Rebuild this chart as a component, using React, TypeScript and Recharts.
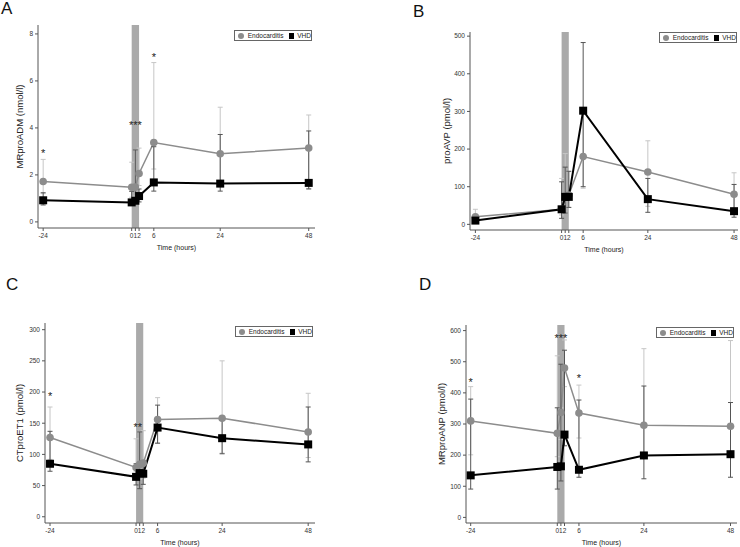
import React from 'react'
import {
  LineChart,
  Line,
  XAxis,
  YAxis,
  ErrorBar,
  ReferenceArea,
  ReferenceDot,
} from 'recharts'

const hours = [-24, 0, 1, 2, 6, 24, 48]

// A: MRproADM
const aEndo = [1.72, 1.47, 1.48, 2.06, 3.38, 2.9, 3.14]
const aEndoLo = [1.2, 1.05, 1.1, 1.55, 2.25, 1.6, 1.42]
const aEndoHi = [2.66, 2.54, 3.05, 3.14, 6.78, 4.88, 4.55]
const aVhd = [0.92, 0.83, 0.9, 1.1, 1.68, 1.63, 1.66]
const aVhdLo = [0.72, 0.72, 0.8, 0.85, 1.31, 1.31, 1.4]
const aVhdHi = [1.24, 1.3, 3.06, 1.4, 3.2, 3.72, 3.87]
const aTicks = [0, 2, 4, 6, 8]
const aStars = [
  { t: -24, y: 2.94, s: '*' },
  { t: 1, y: 4.13, s: '***' },
  { t: 6, y: 7.02, s: '*' },
]

// B: proAVP
const bEndo = [20, 40, 75, 78, 180, 139, 80]
const bEndoLo = [5, 25, 30, 45, 96, 48, 30]
const bEndoHi = [40, 122, 188, 140, 305, 222, 137]
const bVhd = [10, 40, 73, 73, 302, 67, 35]
const bVhdLo = [4, 16, 30, 45, 100, 32, 19]
const bVhdHi = [18, 113, 152, 141, 483, 122, 106]
const bTicks = [0, 100, 200, 300, 400, 500]

// C: CTproET1
const cEndo = [127, 79, 84, 86, 156, 158, 136]
const cEndoLo = [92, 73, 60, 62, 118, 102, 95]
const cEndoHi = [176, 125, 136, 138, 191, 250, 198]
const cVhd = [85, 64, 70, 69, 143, 126, 116]
const cVhdLo = [73, 51, 45, 52, 118, 101, 88]
const cVhdHi = [137, 85, 136, 90, 179, 155, 176]
const cTicks = [0, 50, 100, 150, 200, 250, 300]
const cStars = [
  { t: -24, y: 194, s: '*' },
  { t: 0.5, y: 144, s: '**' },
]

// D: MRproANP
const dEndo = [310, 270, 337, 480, 335, 296, 293]
const dEndoLo = [201, 195, 250, 420, 255, 200, 200]
const dEndoHi = [420, 519, 352, 570, 425, 542, 568]
const dVhd = [135, 162, 164, 266, 153, 199, 203]
const dVhdLo = [91, 91, 117, 230, 129, 124, 129]
const dVhdHi = [380, 352, 492, 537, 377, 422, 369]
const dTicks = [0, 100, 200, 300, 400, 500, 600]
const dStars = [
  { t: -24, y: 435, s: '*' },
  { t: 1, y: 577, s: '***' },
  { t: 6, y: 448, s: '*' },
]

const buildRows = (
  endo: number[], endoLo: number[], endoHi: number[],
  vhd: number[], vhdLo: number[], vhdHi: number[]
) =>
  hours.map((t, i) => ({
    t,
    endo: endo[i],
    endoErr: [endo[i] - endoLo[i], endoHi[i] - endo[i]],
    vhd: vhd[i],
    vhdErr: [vhd[i] - vhdLo[i], vhdHi[i] - vhd[i]],
  }))

const FONT = '"Liberation Sans", Arial, sans-serif'
const GREY = '#8c8c8c'

const SquareDot = (props: any) => {
  const { cx, cy } = props
  if (cx == null || cy == null) return null
  return <rect x={cx - 4} y={cy - 4} width={8} height={8} fill="#000" />
}

const tickStyle = { fontSize: 6.5, fill: '#333', fontFamily: FONT }

type PanelProps = {
  letter: string
  letterPos: { x: number; y: number }
  box: { x: number; y: number; w: number; h: number }
  plot: { l: number; t: number; r: number; b: number }
  xDomain: [number, number]
  yDomain: [number, number]
  yTicks: number[]
  yLabel: string
  yLabelOffset: number
  rows: any[]
  stars: { t: number; y: number; s: string }[]
  legendPos: { x: number; y: number }
}

const Panel = (p: PanelProps) => {
  const xAxisH = 28
  const margin = {
    top: p.plot.t - p.box.y,
    right: p.box.x + p.box.w - p.plot.r,
    left: 0,
    bottom: p.box.y + p.box.h - p.plot.b - xAxisH,
  }
  return (
    <>
      <div
        style={{
          position: 'absolute',
          left: p.letterPos.x,
          top: p.letterPos.y,
          fontSize: 17,
          lineHeight: '17px',
          fontFamily: FONT,
          color: '#111',
        }}
      >
        {p.letter}
      </div>
      <div style={{ position: 'absolute', left: p.box.x, top: p.box.y }}>
        <LineChart width={p.box.w} height={p.box.h} data={p.rows} margin={margin}>
          <XAxis
            dataKey="t"
            type="number"
            domain={p.xDomain}
            ticks={hours}
            interval={0}
            allowDataOverflow
            height={xAxisH}
            tickSize={3}
            tickMargin={2}
            stroke="#555"
            tick={tickStyle}
            label={{
              value: 'Time (hours)',
              position: 'insideBottom',
              offset: 6,
              style: { fontSize: 7, fill: '#222', fontFamily: FONT },
            }}
          />
          <YAxis
            type="number"
            domain={p.yDomain}
            ticks={p.yTicks}
            interval={0}
            allowDataOverflow
            width={p.plot.l - p.box.x}
            tickSize={3}
            tickMargin={2}
            stroke="#555"
            tick={tickStyle}
            label={{
              value: p.yLabel,
              angle: -90,
              position: 'insideLeft',
              offset: p.yLabelOffset,
              style: { fontSize: 9.5, fill: '#222', fontFamily: FONT, textAnchor: 'middle' },
            }}
          />
          <ReferenceArea x1={0} x2={2} fill="#aaaaaa" fillOpacity={1} stroke="none" />
          <Line
            dataKey="endo"
            stroke={GREY}
            strokeWidth={1.5}
            dot={{ r: 3.8, fill: GREY, stroke: GREY, strokeWidth: 0 }}
            isAnimationActive={false}
          >
            <ErrorBar dataKey="endoErr" width={2.5} stroke="#c6c6c6" strokeWidth={1} direction="y" />
          </Line>
          <Line
            dataKey="vhd"
            stroke="#000"
            strokeWidth={2}
            dot={<SquareDot />}
            isAnimationActive={false}
          >
            <ErrorBar dataKey="vhdErr" width={2.5} stroke="#555" strokeWidth={1} direction="y" />
          </Line>
          {p.stars.map((s, i) => (
            <ReferenceDot
              key={i}
              x={s.t}
              y={s.y}
              r={1}
              fill="none"
              stroke="none"
              ifOverflow="visible"
              label={{
                value: s.s,
                position: 'center',
                style: { fontSize: 11, fill: '#222', fontFamily: FONT },
              }}
            />
          ))}
        </LineChart>
      </div>
      <div
        style={{
          position: 'absolute',
          left: p.legendPos.x,
          top: p.legendPos.y,
          width: 76,
          height: 9,
          border: '1px solid #666',
          background: '#fff',
          display: 'flex',
          alignItems: 'center',
          fontFamily: FONT,
          fontSize: 6.5,
          color: '#222',
          lineHeight: '9px',
          whiteSpace: 'nowrap',
        }}
      >
        <span style={{ width: 6, height: 6, borderRadius: 3, background: GREY, marginLeft: 3, marginRight: 4 }} />
        <span>Endocarditis</span>
        <span style={{ width: 6, height: 6, background: '#000', marginLeft: 5, marginRight: 3 }} />
        <span>VHD</span>
      </div>
    </>
  )
}

const App = () => {
  return (
    <div
      style={{
        position: 'absolute',
        left: 0,
        top: 0,
        width: 740,
        height: 547,
        background: '#fff',
        overflow: 'hidden',
      }}
    >
      <Panel
        letter="A"
        letterPos={{ x: 1, y: 0 }}
        box={{ x: 0, y: 0, w: 370, h: 270 }}
        plot={{ l: 38, t: 25, r: 315, b: 228 }}
        xDomain={[-25.4, 49.7]}
        yDomain={[-0.26, 8.38]}
        yTicks={aTicks}
        yLabel="MRproADM (nmol/l)"
        yLabelOffset={20}
        rows={buildRows(aEndo, aEndoLo, aEndoHi, aVhd, aVhdLo, aVhdHi)}
        stars={aStars}
        legendPos={{ x: 234, y: 30 }}
      />
      <Panel
        letter="B"
        letterPos={{ x: 413, y: 3 }}
        box={{ x: 370, y: 0, w: 370, h: 270 }}
        plot={{ l: 470, t: 32, r: 738, b: 230 }}
        xDomain={[-25.5, 49.1]}
        yDomain={[-15, 511]}
        yTicks={bTicks}
        yLabel="proAVP (pmol/l)"
        yLabelOffset={77}
        rows={buildRows(bEndo, bEndoLo, bEndoHi, bVhd, bVhdLo, bVhdHi)}
        stars={[]}
        legendPos={{ x: 659, y: 32 }}
      />
      <Panel
        letter="C"
        letterPos={{ x: 6, y: 276 }}
        box={{ x: 0, y: 270, w: 370, h: 277 }}
        plot={{ l: 45, t: 323, r: 315, b: 523 }}
        xDomain={[-25.4, 49.9]}
        yDomain={[-10, 310.7]}
        yTicks={cTicks}
        yLabel="CTproET1 (pmol/l)"
        yLabelOffset={20}
        rows={buildRows(cEndo, cEndoLo, cEndoHi, cVhd, cVhdLo, cVhdHi)}
        stars={cStars}
        legendPos={{ x: 235, y: 326 }}
      />
      <Panel
        letter="D"
        letterPos={{ x: 419, y: 276 }}
        box={{ x: 370, y: 270, w: 370, h: 277 }}
        plot={{ l: 466, t: 325, r: 737, b: 523 }}
        xDomain={[-25.3, 49.8]}
        yDomain={[-18, 618]}
        yTicks={dTicks}
        yLabel="MRproANP (pmol/l)"
        yLabelOffset={72}
        rows={buildRows(dEndo, dEndoLo, dEndoHi, dVhd, dVhdLo, dVhdHi)}
        stars={dStars}
        legendPos={{ x: 656, y: 327 }}
      />
    </div>
  )
}

export default App
